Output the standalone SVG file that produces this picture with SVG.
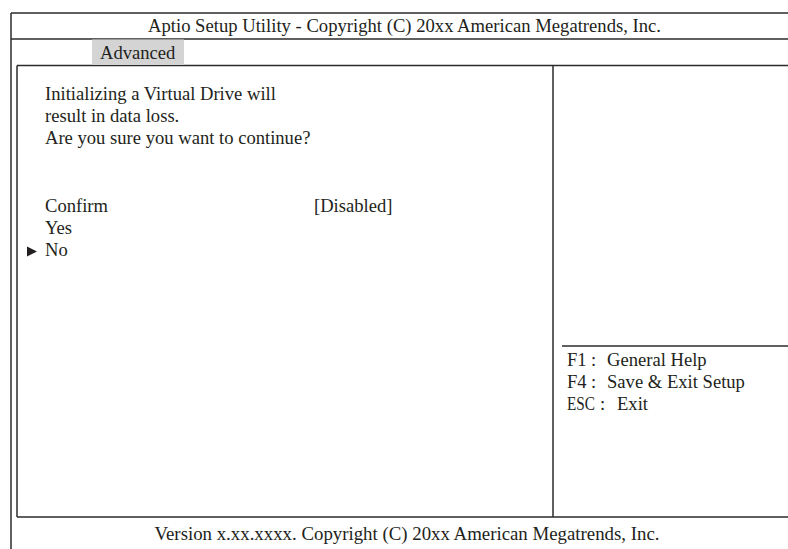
<svg xmlns="http://www.w3.org/2000/svg" width="788" height="549" viewBox="0 0 788 549">
<style>
.ln{stroke:#2b2b2b;stroke-width:1.5;fill:none}
.t{font-family:"Liberation Serif","Times New Roman",serif;font-size:18.6px;fill:#231f20}
</style>
<rect width="788" height="549" fill="#fff"/>
<g id="frame">
<line class="ln" x1="11" y1="13" x2="788" y2="13"/>
<line class="ln" x1="11" y1="13" x2="11" y2="549"/>
<line class="ln" x1="11" y1="39" x2="788" y2="39"/>
<line class="ln" x1="17" y1="65.5" x2="788" y2="65.5"/>
<line class="ln" x1="17" y1="65.5" x2="17" y2="517"/>
<line class="ln" x1="17" y1="517" x2="788" y2="517"/>
<line class="ln" x1="553" y1="65.5" x2="553" y2="517"/>
<line class="ln" x1="562" y1="346" x2="788" y2="346"/>
</g>
<g id="title"><text class="t" x="404.5" y="31.5" text-anchor="middle" textLength="513" lengthAdjust="spacingAndGlyphs">Aptio Setup Utility - Copyright (C) 20xx American Megatrends, Inc.</text></g>
<g id="tab">
<rect x="92" y="39.5" width="92" height="25.5" fill="#d4d4d4"/>
<text class="t" x="100" y="58.5">Advanced</text>
</g>
<g id="message">
<text class="t" x="45" y="100">Initializing a Virtual Drive will</text>
<text class="t" x="45" y="122">result in data loss.</text>
<text class="t" x="45" y="144">Are you sure you want to continue?</text>
</g>
<g id="options">
<text class="t" x="45" y="212">Confirm</text>
<text class="t" x="314" y="212">[Disabled]</text>
<text class="t" x="45" y="234">Yes</text>
<polygon points="27,246.5 37,251.5 27,256.5" fill="#231f20"/>
<text class="t" x="45" y="256">No</text>
</g>
<g id="help">
<text class="t" x="567" y="366">F1<tspan x="591">:</tspan><tspan x="607">General Help</tspan></text>
<text class="t" x="567" y="388">F4<tspan x="591">:</tspan><tspan x="607">Save &amp; Exit Setup</tspan></text>
<text class="t" x="567" y="410"><tspan textLength="28" lengthAdjust="spacingAndGlyphs">ESC</tspan><tspan x="600">:</tspan><tspan x="617">Exit</tspan></text>
</g>
<g id="footer"><text class="t" x="407" y="539.5" text-anchor="middle" textLength="505" lengthAdjust="spacingAndGlyphs">Version x.xx.xxxx. Copyright (C) 20xx American Megatrends, Inc.</text></g>
</svg>
